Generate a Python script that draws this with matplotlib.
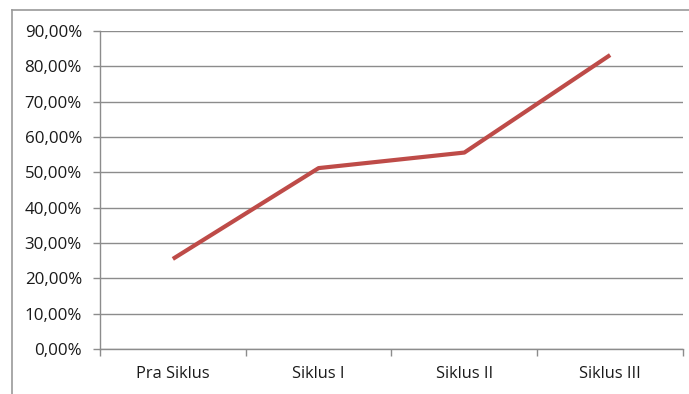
import matplotlib.pyplot as plt
from matplotlib.lines import Line2D
from matplotlib.ticker import FixedLocator, FuncFormatter

# Percentage of students reaching the target, per cycle
stages = ["Pra Siklus", "Siklus I", "Siklus II", "Siklus III"]
percent = [25.5, 51.2, 55.6, 83.2]
y_ticks = [0, 10, 20, 30, 40, 50, 60, 70, 80, 90]

LINE_RED = "#BE4B48"
GRID_GREY = "#8C8C8C"

plt.rcParams["font.family"] = ["Open Sans", "DejaVu Sans"]

fig = plt.figure(figsize=(6.89, 3.94), dpi=100)
ax = fig.add_axes([0.1451, 0.1142, 0.8462, 0.8071])

x = list(range(len(stages)))
ax.plot(x, percent, color=LINE_RED, linewidth=3.0, solid_capstyle="butt", zorder=3)

ax.set_ylim(0, 90)
ax.set_yticks(y_ticks)
ax.yaxis.set_major_formatter(FuncFormatter(lambda v, _: f"{v:.2f}%".replace(".", ",")))
ax.grid(axis="y", color=GRID_GREY, linewidth=1.0)
ax.set_axisbelow(True)

# category boundaries carry the tick marks, labels sit centred between them
ax.set_xlim(-0.5, len(stages) - 0.5)
ax.xaxis.set_major_locator(FixedLocator([i - 0.5 for i in range(len(stages) + 1)]))
ax.xaxis.set_major_formatter(FuncFormatter(lambda v, _: ""))
ax.xaxis.set_minor_locator(FixedLocator(x))
ax.set_xticklabels(stages, minor=True)
ax.tick_params(axis="x", which="major", length=5, width=1, color=GRID_GREY)
ax.tick_params(axis="x", which="minor", length=0, pad=12, labelsize=11.8, labelcolor="#1A1A1A")
ax.tick_params(axis="y", length=5, width=1, color=GRID_GREY, pad=8, labelsize=12.2,
               labelcolor="#1A1A1A")

for side in ("top", "right"):
    ax.spines[side].set_visible(False)
for side in ("left", "bottom"):
    ax.spines[side].set_color(GRID_GREY)
    ax.spines[side].set_linewidth(1.0)

# chart area frame
frame_col = "#9A9A9A"
fig.add_artist(Line2D([0.0174, 1.0], [0.9746, 0.9746], color=frame_col, linewidth=1.2,
                      transform=fig.transFigure))
fig.add_artist(Line2D([0.0174, 0.0174], [0.0, 0.9746], color=frame_col, linewidth=1.2,
                      transform=fig.transFigure))

fig.savefig("out.png", dpi=100)
